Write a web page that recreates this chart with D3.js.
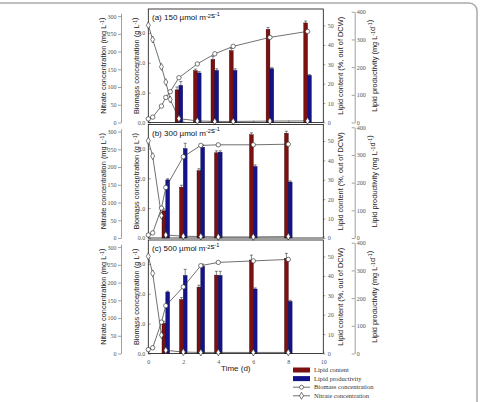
<!DOCTYPE html>
<meta charset="utf-8">
<style>
    body { margin: 0; background: #fff; }
    svg { display: block; }
    .tk text { font: 6px "Liberation Serif", serif; fill: #555; }
    .tk line, .tk path { stroke: #888; stroke-width: 0.8px; }
    .title { font: 7.4px "Liberation Sans", Arial, sans-serif; fill: #222; }
    .legend text { font: 6.5px "Liberation Serif", serif; fill: #333; }
</style>
<svg width="480" height="402"></svg>
<script src="https://d3js.org/d3.v7.min.js"></script>
<script>
    // panel (a) 150
    var aCurveTime = [0, 0.25, 0.75, 1, 1.25, 1.75, 2.8, 3.8, 4.85, 6.95, 9.1];
    var aBiomass = [0.12, 0.18, 0.55, 0.84, 1.03, 1.5, 1.96, 2.3, 2.55, 2.85, 3.05];
    var aNitrate = [274, 234, 157, 114, 65, 11, 4.5, 3, 3, 4, 4.5];
    var aBarTime = [1.75, 2.8, 3.8, 4.85, 6.95, 9.1];
    var aLipid = [16.8, 26.7, 32.5, 37, 48, 51.3];
    var aLipidErr = [1.5, 0.8, 1.5, 1.2, 1, 1];
    var aProd = [134, 179, 188, 188, 194, 170];
    var aProdErr = [14, 5, 6, 6, 4, 3];

    // panel (b) 300
    var bCurveTime = [0, 0.25, 0.75, 1, 2, 3, 4, 6, 8];
    var bBiomass = [0.1, 0.17, 1.0, 1.69, 2.72, 3.1, 3.12, 3.12, 3.14];
    var bNitrate = [274, 231, 63, 8.5, 5, 4, 3, 3, 4];
    var bBarTime = [1, 2, 3, 4, 6, 8];
    var bLipid = [14, 26.2, 34.7, 43.9, 53.2, 54];
    var bLipidErr = [1, 1, 1, 1, 1, 1];
    var bProd = [210, 323, 328, 310, 258, 202];
    var bProdErr = [4, 19, 8, 5, 6, 4];

    // panel (c) 500
    var cCurveTime = [0, 0.25, 0.75, 1, 2, 3, 4, 6, 8];
    var cBiomass = [0.13, 0.19, 1.05, 1.6, 2.23, 2.94, 3.05, 3.1, 3.15];
    var cNitrate = [274, 226, 52, 9, 4, 3, 3, 3, 3];
    var cBarTime = [1, 2, 3, 4, 6, 8];
    var cLipid = [15.6, 27.8, 34.2, 40.4, 48.2, 49.1];
    var cLipidErr = [1, 1, 1, 2, 2.5, 2.5];
    var cProd = [222, 282, 315, 282, 233, 188];
    var cProdErr = [3, 22, 8, 15, 4, 4];

    var panelLabels = ["(a) 150 \u00b5mol m", "(b) 300 \u00b5mol m", "(c) 500 \u00b5mol m"];
    var xTicks = [0, 2, 4, 6, 8, 10];
    var bioTicks = [0, 1, 2, 3];
    var nitTicks = [0, 50, 100, 150, 200, 250, 300];
    var lipTicks = [0, 10, 20, 30, 40, 50];
    var prodTicks = [0, 100, 200, 300, 400];
    var legendNames = ["Lipid content", "Lipid productivity", "Biomass concentration", "Nitrate concentration"];

    var panels = [
        {t: aCurveTime, bio: aBiomass, nit: aNitrate, bt: aBarTime, lip: aLipid, lipE: aLipidErr, prod: aProd, prodE: aProdErr},
        {t: bCurveTime, bio: bBiomass, nit: bNitrate, bt: bBarTime, lip: bLipid, lipE: bLipidErr, prod: bProd, prodE: bProdErr},
        {t: cCurveTime, bio: cBiomass, nit: cNitrate, bt: cBarTime, lip: cLipid, lipE: cLipidErr, prod: cProd, prodE: cProdErr}
    ];

    var svg = d3.select("svg");
    var left = 148.3, right = 323.3, H = 113.5, tops = [9, 124.5, 240];
    var W = right - left, bw = 3.8;
    var red = "#7a1010", blue = "#14148a";

    var x = d3.scaleLinear().domain([0, 10]).range([0, W]);
    var yBio = d3.scaleLinear().domain([0, 3.8]).range([H, 0]);
    var yNit = d3.scaleLinear().domain([0, 320]).range([H, 0]);
    var yLip = d3.scaleLinear().domain([0, 58.5]).range([H, 0]);
    var yProd = d3.scaleLinear().domain([0, 410]).range([H, 0]);

    // figure frame
    svg.append("path")
        .attr("d", "M-5,3 H469 A8,8 0 0 1 477,11 V410")
        .attr("fill", "none").attr("stroke", "#aaa").attr("stroke-width", 1.5);

    function supText(sel, parts) {
        parts.forEach(function(p) {
            if (p[1]) {
                sel.append("tspan").attr("font-size", "0.7em").attr("dy", "-0.4em").text(p[0]);
                sel.append("tspan").attr("font-size", "1em").attr("dy", "0.28em").text("");
            } else {
                sel.append("tspan").text(p[0]);
            }
        });
    }

    function vTitle(g, xpos, parts) {
        var t = g.append("text").attr("class", "title")
            .attr("transform", "translate(" + xpos + "," + (H / 2) + ") rotate(-90)")
            .attr("text-anchor", "middle").attr("dy", "0.35em");
        supText(t, parts);
    }

    panels.forEach(function(p, i) {
        var g = svg.append("g").attr("transform", "translate(" + left + "," + tops[i] + ")");

        // nitrate axis
        g.append("g").attr("class", "tk").attr("transform", "translate(-27.3,0)")
            .call(d3.axisLeft(yNit.copy().domain([0, 308]).range([H, yNit(308)]))
                .tickValues(nitTicks).tickSizeInner(3).tickSizeOuter(0).tickPadding(1.5));

        // biomass axis
        var ba = g.append("g").attr("class", "tk")
            .call(d3.axisLeft(yBio).tickValues(bioTicks).tickSizeInner(-2.5).tickSizeOuter(0).tickPadding(3));
        ba.select(".domain").remove();

        // lipid content axis
        var la = g.append("g").attr("class", "tk").attr("transform", "translate(" + W + ",0)")
            .call(d3.axisRight(yLip).tickValues(lipTicks).tickSizeInner(2).tickSizeOuter(0).tickPadding(2.5));
        la.select(".domain").remove();

        // lipid productivity axis
        g.append("g").attr("class", "tk").attr("transform", "translate(206.4,0)")
            .call(d3.axisRight(yProd.copy().domain([0, 400]).range([H, yProd(400)]))
                .tickValues(prodTicks).tickSizeInner(-3).tickSizeOuter(0).tickPadding(2));

        // time axis
        var xa = g.append("g").attr("class", "tk").attr("transform", "translate(0," + H + ")")
            .call(d3.axisBottom(x).tickValues(xTicks).tickSizeInner(-2).tickSizeOuter(0).tickPadding(6));
        xa.select(".domain").remove();
        if (i < 2) xa.selectAll("text").remove();

        // bars
        g.selectAll(".lip").data(p.bt).enter().append("rect")
            .attr("x", function(d) { return x(d) - bw; })
            .attr("y", function(d, j) { return yLip(p.lip[j]); })
            .attr("width", bw)
            .attr("height", function(d, j) { return H - yLip(p.lip[j]); })
            .attr("fill", red).attr("stroke", "#3a0000").attr("stroke-width", 0.4);
        g.selectAll(".prod").data(p.bt).enter().append("rect")
            .attr("x", function(d) { return x(d); })
            .attr("y", function(d, j) { return yProd(p.prod[j]); })
            .attr("width", bw)
            .attr("height", function(d, j) { return H - yProd(p.prod[j]); })
            .attr("fill", blue).attr("stroke", "#000048").attr("stroke-width", 0.4);

        // error bars
        function errBar(cx, y0, y1) {
            g.append("line").attr("x1", cx).attr("x2", cx).attr("y1", y0).attr("y2", y1)
                .attr("stroke", "#333").attr("stroke-width", 0.6);
            g.append("line").attr("x1", cx - 1.5).attr("x2", cx + 1.5).attr("y1", y1).attr("y2", y1)
                .attr("stroke", "#333").attr("stroke-width", 0.6);
        }
        p.bt.forEach(function(d, j) {
            errBar(x(d) - bw / 2, yLip(p.lip[j]), yLip(p.lip[j] + p.lipE[j]));
            errBar(x(d) + bw / 2, yProd(p.prod[j]), yProd(p.prod[j] + p.prodE[j]));
        });

        // panel box
        g.append("rect").attr("width", W).attr("height", H)
            .attr("fill", "none").attr("stroke", "#111").attr("stroke-width", 0.8);

        // lines
        var bioLine = d3.line().x(function(d, j) { return x(p.t[j]); }).y(function(d) { return yBio(d); });
        var nitLine = d3.line().x(function(d, j) { return x(p.t[j]); }).y(function(d) { return yNit(d); });
        g.append("path").attr("d", nitLine(p.nit)).attr("fill", "none").attr("stroke", "#333").attr("stroke-width", 0.7);
        g.append("path").attr("d", bioLine(p.bio)).attr("fill", "none").attr("stroke", "#333").attr("stroke-width", 0.7);

        g.selectAll(".nit").data(p.nit).enter().append("path")
            .attr("d", d3.symbol().type(d3.symbolDiamond).size(14))
            .attr("transform", function(d, j) { return "translate(" + x(p.t[j]) + "," + yNit(d) + ")"; })
            .attr("fill", "#fff").attr("stroke", "#222").attr("stroke-width", 0.6);
        g.selectAll(".bio").data(p.bio).enter().append("circle")
            .attr("cx", function(d, j) { return x(p.t[j]); })
            .attr("cy", function(d) { return yBio(d); })
            .attr("r", 2.2)
            .attr("fill", "#fff").attr("stroke", "#222").attr("stroke-width", 0.6);

        // panel label
        var pl = g.append("text").attr("x", 3.7).attr("y", 11)
            .style("font", "8px 'Liberation Sans', Arial, sans-serif").attr("fill", "#111");
        supText(pl, [[panelLabels[i]], ["-2", true], ["s"], ["-1", true]]);

        // axis titles
        vTitle(g, -45.3, [["Nitrate concentration (mg L"], ["-1", true], [")"]]);
        vTitle(g, -11.6, [["Biomass concentration (g L"], ["-1", true], [")"]]);
        vTitle(g, 191.7, [["Lipid content (%, out of DCW)"]]);
        vTitle(g, 225.7, [["Lipid productivity (mg L"], ["-1", true], ["d"], ["-1", true], [")"]]);
    });

    svg.append("text").attr("x", left + W / 2).attr("y", 371)
        .attr("text-anchor", "middle")
        .style("font", "8px 'Liberation Sans', Arial, sans-serif").attr("fill", "#222")
        .text("Time (d)");

    // legend
    var lg = svg.append("g").attr("class", "legend").attr("transform", "translate(293,370)");
    legendNames.forEach(function(name, i) {
        var row = lg.append("g").attr("transform", "translate(0," + (i * 8.6) + ")");
        if (i < 2) {
            row.append("rect").attr("x", 0).attr("y", -2.5).attr("width", 17).attr("height", 5)
                .attr("fill", i === 0 ? red : blue);
        } else {
            row.append("line").attr("x1", 0).attr("x2", 17).attr("stroke", "#333").attr("stroke-width", 0.7);
            if (i === 2) {
                row.append("circle").attr("cx", 8.5).attr("r", 2).attr("fill", "#fff").attr("stroke", "#222").attr("stroke-width", 0.6);
            } else {
                row.append("path").attr("d", d3.symbol().type(d3.symbolDiamond).size(14))
                    .attr("transform", "translate(8.5,0)").attr("fill", "#fff").attr("stroke", "#222").attr("stroke-width", 0.6);
            }
        }
        row.append("text").attr("x", 21).attr("dy", "0.35em").text(name);
    });
</script>
